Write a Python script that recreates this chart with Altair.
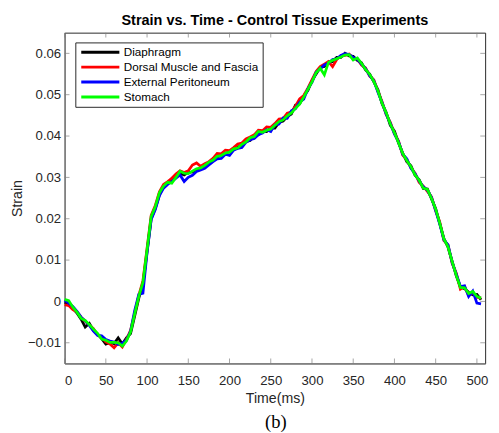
import altair as alt
import pandas as pd

times = list(range(0, 510, 5))

diaphragm = [-0.0002, -0.0006, -0.0017, -0.0028, -0.0043, -0.0062, -0.0053, -0.0070, -0.0080, -0.0090,
             -0.0103, -0.0099, -0.0102, -0.0088, -0.0103, -0.0088, -0.0078, -0.0035, 0.0008, 0.0042,
             0.0120, 0.0200, 0.0225, 0.0258, 0.0278, 0.0285, 0.0297, 0.0302, 0.0310, 0.0306,
             0.0312, 0.0313, 0.0318, 0.0321, 0.0326, 0.0333, 0.0345, 0.0349, 0.0355, 0.0357,
             0.0363, 0.0366, 0.0373, 0.0378, 0.0387, 0.0389, 0.0401, 0.0403, 0.0412, 0.0411,
             0.0419, 0.0419, 0.0433, 0.0436, 0.0447, 0.0453, 0.0475, 0.0478, 0.0497, 0.0510,
             0.0534, 0.0550, 0.0566, 0.0568, 0.0579, 0.0580, 0.0590, 0.0590, 0.0600, 0.0594,
             0.0593, 0.0583, 0.0577, 0.0560, 0.0550, 0.0531, 0.0512, 0.0478, 0.0457, 0.0426,
             0.0412, 0.0383, 0.0359, 0.0338, 0.0328, 0.0305, 0.0294, 0.0273, 0.0272, 0.0248,
             0.0224, 0.0188, 0.0152, 0.0131, 0.0097, 0.0062, 0.0035, 0.0031, 0.0022, 0.0016,
             0.0017, 0.0004]

dorsal = [-0.0008, -0.0010, -0.0020, -0.0025, -0.0038, -0.0048, -0.0057, -0.0066, -0.0081, -0.0086,
          -0.0098, -0.0103, -0.0112, -0.0100, -0.0110, -0.0092, -0.0070, -0.0028, 0.0015, 0.0050,
          0.0128, 0.0208, 0.0232, 0.0265, 0.0283, 0.0290, 0.0298, 0.0308, 0.0316, 0.0312,
          0.0316, 0.0330, 0.0335, 0.0327, 0.0333, 0.0338, 0.0346, 0.0358, 0.0357, 0.0366,
          0.0365, 0.0372, 0.0381, 0.0383, 0.0393, 0.0398, 0.0403, 0.0414, 0.0413, 0.0422,
          0.0421, 0.0430, 0.0441, 0.0442, 0.0455, 0.0458, 0.0472, 0.0490, 0.0498, 0.0516,
          0.0536, 0.0556, 0.0568, 0.0574, 0.0580, 0.0568, 0.0585, 0.0594, 0.0595, 0.0598,
          0.0588, 0.0587, 0.0572, 0.0565, 0.0545, 0.0536, 0.0508, 0.0483, 0.0452, 0.0433,
          0.0406, 0.0388, 0.0354, 0.0343, 0.0323, 0.0310, 0.0288, 0.0279, 0.0266, 0.0253,
          0.0219, 0.0192, 0.0147, 0.0136, 0.0092, 0.0068, 0.0030, 0.0036, 0.0015, 0.0021,
          0.0010, 0.0008]

peritoneum = [0.0003, -0.0004, -0.0012, -0.0024, -0.0038, -0.0047, -0.0058, -0.0072, -0.0082, -0.0083,
              -0.0092, -0.0096, -0.0098, -0.0104, -0.0101, -0.0094, -0.0072, -0.0022, 0.0017, 0.0020,
              0.0118, 0.0198, 0.0222, 0.0256, 0.0274, 0.0283, 0.0290, 0.0298, 0.0306, 0.0290,
              0.0300, 0.0305, 0.0314, 0.0318, 0.0322, 0.0330, 0.0338, 0.0345, 0.0346, 0.0356,
              0.0353, 0.0366, 0.0370, 0.0372, 0.0385, 0.0391, 0.0394, 0.0403, 0.0407, 0.0415,
              0.0411, 0.0427, 0.0429, 0.0444, 0.0443, 0.0461, 0.0466, 0.0482, 0.0489, 0.0514,
              0.0530, 0.0554, 0.0563, 0.0572, 0.0576, 0.0585, 0.0587, 0.0595, 0.0599, 0.0597,
              0.0590, 0.0586, 0.0574, 0.0563, 0.0546, 0.0534, 0.0506, 0.0481, 0.0453, 0.0431,
              0.0405, 0.0386, 0.0356, 0.0345, 0.0322, 0.0309, 0.0291, 0.0277, 0.0269, 0.0251,
              0.0220, 0.0187, 0.0149, 0.0137, 0.0094, 0.0066, 0.0036, 0.0038, 0.0012, 0.0025,
              -0.0004, -0.0006]

stomach = [0.0005, 0.0002, -0.0014, -0.0026, -0.0041, -0.0046, -0.0056, -0.0067, -0.0077, -0.0091,
           -0.0094, -0.0099, -0.0099, -0.0100, -0.0108, -0.0096, -0.0074, -0.0030, 0.0012, 0.0046,
           0.0125, 0.0205, 0.0229, 0.0263, 0.0279, 0.0288, 0.0286, 0.0300, 0.0315, 0.0310,
           0.0309, 0.0315, 0.0321, 0.0323, 0.0329, 0.0337, 0.0342, 0.0351, 0.0353, 0.0359,
           0.0361, 0.0369, 0.0371, 0.0380, 0.0386, 0.0396, 0.0399, 0.0411, 0.0409, 0.0414,
           0.0417, 0.0426, 0.0435, 0.0439, 0.0449, 0.0456, 0.0467, 0.0477, 0.0494, 0.0513,
           0.0531, 0.0553, 0.0564, 0.0548, 0.0578, 0.0583, 0.0587, 0.0591, 0.0596, 0.0597,
           0.0584, 0.0589, 0.0576, 0.0561, 0.0549, 0.0532, 0.0509, 0.0479, 0.0456, 0.0429,
           0.0408, 0.0384, 0.0358, 0.0341, 0.0326, 0.0306, 0.0293, 0.0274, 0.0271, 0.0249,
           0.0223, 0.0189, 0.0151, 0.0132, 0.0096, 0.0063, 0.0034, 0.0033, 0.0019, 0.0024,
           0.0012, 0.0008]

series_names = ["Diaphragm", "Dorsal Muscle and Fascia", "External Peritoneum", "Stomach"]
series_colors = ["#000000", "#ff0000", "#0000ff", "#00ff00"]
x_ticks = [0, 50, 100, 150, 200, 250, 300, 350, 400, 450, 500]
y_ticks = [-0.01, 0, 0.01, 0.02, 0.03, 0.04, 0.05, 0.06]

rows = []
for name, vals in zip(series_names, [diaphragm, dorsal, peritoneum, stomach]):
    for t, v in zip(times, vals):
        rows.append({"time": t, "strain": v, "series": name})
df = pd.DataFrame(rows)

W, H = 431, 339
GRAY = "#7f7f7f"
TXT = "#262626"
FONT = "Liberation Sans"

xscale = alt.Scale(domain=[0, 510], nice=False, zero=False)
yscale = alt.Scale(domain=[-0.015, 0.065], nice=False, zero=False)

xaxis = alt.Axis(values=x_ticks, title="Time(ms)", grid=False, ticks=False,
                 labelPadding=11, titlePadding=5, domainColor=GRAY, format="d")
yaxis = alt.Axis(values=y_ticks, title="Strain", grid=False, ticks=False,
                 labelPadding=4, titlePadding=3, domainColor=GRAY, format="~g")

lines = alt.Chart(df).mark_line(strokeWidth=2.8, strokeJoin="miter").encode(
    x=alt.X("time:Q", scale=xscale, axis=xaxis),
    y=alt.Y("strain:Q", scale=yscale, axis=yaxis),
    color=alt.Color("series:N",
                    scale=alt.Scale(domain=series_names, range=series_colors),
                    legend=alt.Legend(title=None, orient="none", legendX=11, legendY=10,
                                      symbolType="M-5,0H5", symbolSize=61,
                                      symbolOffset=15.6,
                                      symbolStrokeWidth=3, labelFontSize=12,
                                      labelFont=FONT, labelColor="#000000",
                                      strokeColor="#262626", fillColor="#ffffff",
                                      padding=4, rowPadding=3.3, labelOffset=18)),
)

xt = pd.DataFrame({"t": x_ticks})
yt = pd.DataFrame({"v": y_ticks})
xt_enc = alt.X("t:Q", scale=xscale, axis=xaxis)
yt_enc = alt.Y("v:Q", scale=yscale, axis=yaxis)

bottom_ticks = alt.Chart(xt).mark_tick(orient="vertical", size=5, thickness=1, color=GRAY).encode(
    x=xt_enc, y=alt.value(H - 2.5))
top_ticks = alt.Chart(xt).mark_tick(orient="vertical", size=5, thickness=1, color=GRAY).encode(
    x=xt_enc, y=alt.value(2.5))
left_ticks = alt.Chart(yt).mark_tick(orient="horizontal", size=5, thickness=1, color=GRAY).encode(
    y=yt_enc, x=alt.value(2.5))
right_ticks = alt.Chart(yt).mark_tick(orient="horizontal", size=5, thickness=1, color=GRAY).encode(
    y=yt_enc, x=alt.value(W - 2.5))

caption = alt.Chart(pd.DataFrame({"label": ["(b)"]})).mark_text(
    font="Liberation Serif", fontSize=19, color="#000000", baseline="middle", align="center"
).encode(text="label:N", x=alt.value(W / 2 + 1), y=alt.value(H + 60))

chart = alt.layer(bottom_ticks, top_ticks, left_ticks, right_ticks, lines, caption).properties(
    width=W, height=H,
    title=alt.TitleParams("Strain vs. Time - Control Tissue Experiments", fontSize=14.8,
                          font=FONT, fontWeight="bold", color="#000000", offset=5),
    autosize=alt.AutoSizeParams(type="none"),
    padding={"left": 58, "top": 20, "right": 6, "bottom": 66},
).configure_view(stroke="#262626", strokeWidth=1).configure_axis(
    labelFont=FONT, titleFont=FONT, labelFontSize=13.5, titleFontSize=14.5,
    labelColor=TXT, titleColor=TXT, titleFontWeight="normal", domainWidth=1
)

chart.save("out.html", embed_options={"renderer": "svg", "actions": False})
